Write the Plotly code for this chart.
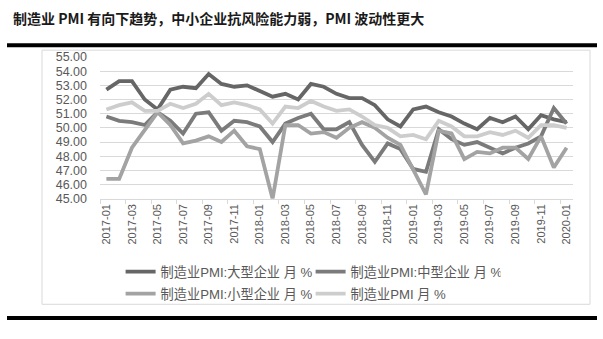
import plotly.graph_objects as go

months = ["2017-01", "2017-02", "2017-03", "2017-04", "2017-05", "2017-06",
          "2017-07", "2017-08", "2017-09", "2017-10", "2017-11", "2017-12",
          "2018-01", "2018-02", "2018-03", "2018-04", "2018-05", "2018-06",
          "2018-07", "2018-08", "2018-09", "2018-10", "2018-11", "2018-12",
          "2019-01", "2019-02", "2019-03", "2019-04", "2019-05", "2019-06",
          "2019-07", "2019-08", "2019-09", "2019-10", "2019-11", "2019-12",
          "2020-01"]

large = [52.7, 53.3, 53.3, 52.0, 51.3, 52.7, 52.9, 52.8, 53.8, 53.1, 52.9, 53.0,
         52.6, 52.2, 52.4, 52.0, 53.1, 52.9, 52.4, 52.1, 52.1, 51.6, 50.6, 50.1,
         51.3, 51.5, 51.1, 50.8, 50.3, 49.9, 50.7, 50.4, 50.8, 49.9, 50.9, 50.6,
         50.4]
medium = [50.8, 50.5, 50.4, 50.2, 51.1, 50.5, 49.6, 51.0, 51.1, 49.8, 50.5, 50.4,
          50.1, 49.0, 50.3, 50.7, 51.0, 49.9, 49.9, 50.4, 48.8, 47.6, 48.9, 48.5,
          47.1, 46.9, 49.9, 49.2, 48.8, 49.0, 48.6, 48.2, 48.6, 48.9, 49.4, 51.4,
          50.3]
small = [46.4, 46.4, 48.6, 49.9, 51.1, 50.2, 48.9, 49.1, 49.4, 49.0, 49.8, 48.7,
         48.5, 45.0, 50.2, 50.2, 49.6, 49.7, 49.3, 50.0, 50.4, 50.0, 49.3, 48.8,
         47.1, 45.3, 49.8, 49.6, 47.8, 48.3, 48.2, 48.6, 48.6, 47.8, 49.4, 47.2,
         48.6]
pmi = [51.3, 51.6, 51.8, 51.2, 51.2, 51.7, 51.4, 51.7, 52.4, 51.6, 51.8, 51.6,
       51.3, 50.3, 51.5, 51.4, 51.9, 51.5, 51.2, 51.3, 50.8, 50.2, 50.0, 49.4,
       49.5, 49.2, 50.5, 50.1, 49.4, 49.4, 49.7, 49.5, 49.8, 49.3, 50.2, 50.2,
       50.0]

names = ["制造业PMI:大型企业 月 %", "制造业PMI:中型企业 月 %",
         "制造业PMI:小型企业 月 %", "制造业PMI 月 %"]
series = [large, medium, small, pmi]
colors = ["#666666", "#7b7b7b", "#a3a3a3", "#cdcdcd"]
legends = ["legend", "legend", "legend2", "legend2"]
tick_labels = months[::2]
y_ticks = [45, 46, 47, 48, 49, 50, 51, 52, 53, 54, 55]

fig = go.Figure()
for nm, vals, col, lg in zip(names, series, colors, legends):
    fig.add_trace(go.Scatter(x=months, y=vals, mode="lines", name=nm,
                             line=dict(color=col, width=3.8), legend=lg))

font_fam = "Liberation Sans, Noto Sans CJK SC, sans-serif"
legend_common = dict(orientation="h", xref="container", yref="container",
                     x=0.2, xanchor="left", yanchor="middle",
                     entrywidth=145, entrywidthmode="pixels",
                     font=dict(family=font_fam, size=13.2, color="#595959"),
                     bgcolor="rgba(0,0,0,0)", itemwidth=30,
                     tracegroupgap=0)

fig.update_layout(
    width=603, height=339,
    margin=dict(l=100, r=30, t=57, b=137),
    paper_bgcolor="white", plot_bgcolor="white",
    showlegend=True,
    legend=dict(**legend_common, y=1 - 272 / 339),
    legend2=dict(**legend_common, y=1 - 294 / 339),
    xaxis=dict(type="category", tickmode="array", tickvals=tick_labels,
               ticktext=tick_labels, tickangle=-90,
               tickfont=dict(family=font_fam, size=11, color="#595959"),
               showgrid=False, showline=True, linecolor="#d9d9d9", linewidth=1,
               ticks="", range=[-0.5, 36.5],
               minor=dict(tickmode="array",
                          tickvals=[-0.5 + 2 * k for k in range(19)],
                          ticks="outside", ticklen=4, tickcolor="#d9d9d9",
                          showgrid=False)),
    yaxis=dict(range=[45, 55], tickmode="array", tickvals=y_ticks,
               tickformat=".2f", showgrid=True, gridcolor="#d9d9d9",
               gridwidth=1, zeroline=False, showline=False, ticks="",
               ticklabelstandoff=12,
               tickfont=dict(family=font_fam, size=12.5, color="#595959")),
    shapes=[
        dict(type="rect", xref="paper", yref="paper",
             x0=(42 - 100) / 473, x1=(590 - 100) / 473,
             y0=(202 - 310) / 145, y1=(202 - 50) / 145,
             line=dict(color="#d9d9d9", width=1), layer="below"),
        dict(type="line", xref="paper", yref="paper",
             x0=(7 - 100) / 473, x1=(597 - 100) / 473,
             y0=(202 - 45) / 145, y1=(202 - 45) / 145,
             line=dict(color="black", width=4)),
        dict(type="line", xref="paper", yref="paper",
             x0=(7 - 100) / 473, x1=(597 - 100) / 473,
             y0=(202 - 324) / 145, y1=(202 - 324) / 145,
             line=dict(color="black", width=4)),
    ],
    annotations=[
        dict(text="<b>制造业 PMI 有向下趋势，中小企业抗风险能力弱，PMI 波动性更大</b>",
             xref="paper", yref="paper", x=(11 - 100) / 473,
             y=(202 - 17) / 145, xanchor="left", yanchor="middle",
             showarrow=False,
             font=dict(family="Noto Sans CJK SC, sans-serif", size=14,
                       color="#1a1a1a")),
    ],
)

fig.write_html("out.html")
